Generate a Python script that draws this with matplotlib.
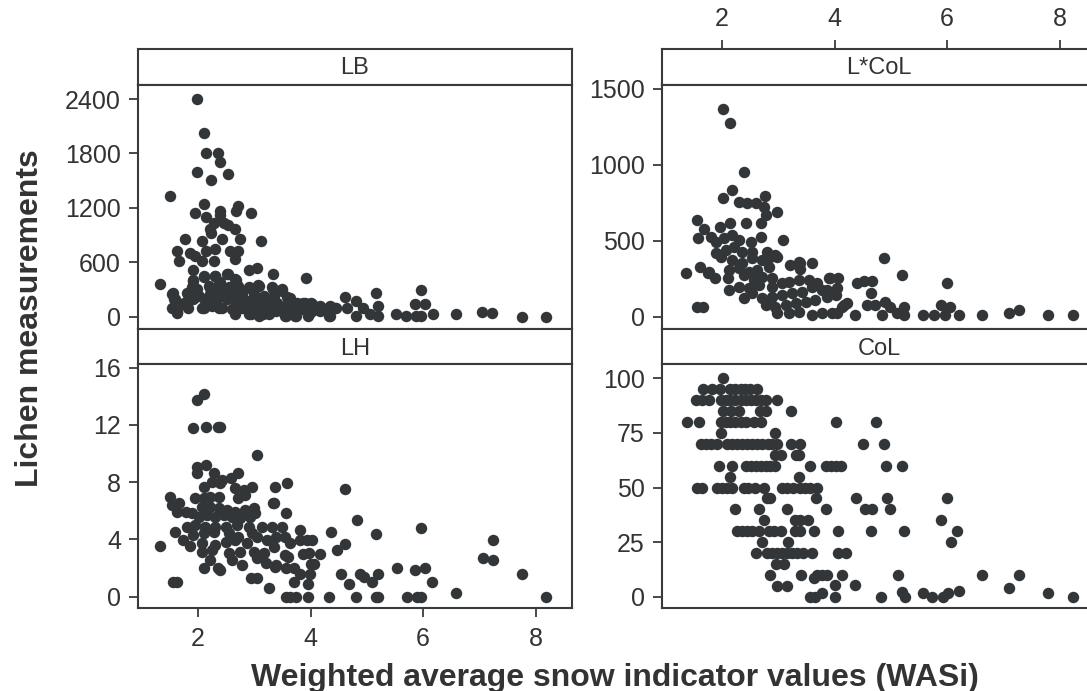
import matplotlib
matplotlib.use("Agg")
import matplotlib.pyplot as plt

# ---------------- data ----------------
lb_points = [
    (1.99, 2400), (2.10, 2020), (2.14, 1800), (2.36, 1800), (2.39, 1710), (1.99, 1600), (2.53, 1570),
    (2.24, 1505), (1.51, 1325), (2.10, 1237), (1.95, 1148), (2.14, 1104), (2.39, 1170), (2.39, 1123),
    (2.72, 1215), (2.68, 1170), (2.94, 1148), (2.28, 1034), (2.46, 1034), (2.53, 1012), (2.21, 968),
    (2.65, 968), (2.24, 919), (1.77, 857), (2.43, 857), (2.75, 857), (2.07, 831), (3.12, 831),
    (1.63, 720), (1.85, 698), (1.95, 672), (2.14, 720), (2.31, 742), (2.57, 720), (2.72, 720),
    (1.66, 609), (2.07, 609), (2.28, 609), (2.65, 631), (1.92, 517), (2.90, 517), (3.05, 539),
    (2.53, 473), (3.34, 473), (3.92, 429), (1.33, 365), (1.92, 403), (2.10, 451), (2.31, 451), (2.68, 403),
    (1.55, 262), (1.59, 196), (1.73, 137), (1.55, 93), (1.63, 55), (1.80, 262), (1.95, 307), (1.95, 218),
    (2.10, 93), (2.21, 321), (2.39, 377), (2.42, 248), (2.21, 174), (2.38, 100), (2.54, 321), (2.68, 174),
    (2.79, 285), (2.92, 321), (3.07, 351), (2.86, 100), (2.95, 27), (3.14, 210), (3.16, 27), (3.34, 303),
    (3.49, 285), (3.27, 137), (3.39, 63), (3.63, 210), (3.57, 8), (3.75, 8), (3.87, 155), (4.01, 155),
    (3.95, 8), (4.16, 63),
    (1.92, 395), (2.10, 432), (2.31, 451), (2.52, 469), (2.66, 414), (1.98, 303), (2.19, 340), (2.37, 359),
    (2.55, 322), (2.72, 340), (2.90, 322), (3.08, 340), (3.32, 322), (3.49, 303), (1.54, 248), (1.83, 248),
    (2.01, 229), (2.22, 248), (2.43, 229), (2.63, 266), (2.78, 248), (2.99, 248), (3.17, 229), (3.35, 229),
    (3.58, 211), (1.57, 192), (1.75, 155), (1.92, 192), (2.13, 192), (2.34, 192), (2.52, 192), (2.69, 174),
    (2.87, 174), (3.05, 174), (3.23, 174), (3.40, 155), (3.58, 137), (3.76, 155), (3.91, 155), (4.03, 137),
    (4.17, 118), (4.35, 118), (1.54, 100), (1.63, 45), (1.83, 100), (2.07, 100), (2.25, 118), (2.43, 100),
    (2.60, 82), (2.78, 100), (2.96, 82), (3.14, 100), (3.32, 82), (3.49, 63), (3.67, 63), (3.85, 82),
    (4.03, 63), (4.26, 82), (4.44, 100), (2.66, 26), (2.90, 26), (3.08, 8), (3.26, 26), (3.55, 8),
    (3.73, 8), (3.97, 26), (4.32, 8), (2.13, 137), (1.89, 322), (2.31, 285),
    (4.34, 8), (4.61, 211), (4.46, 100), (4.64, 100), (4.81, 174), (4.81, 8), (4.93, 100), (5.17, 255),
    (5.20, 118), (5.05, 26), (5.20, 8), (5.52, 26), (5.70, 8), (5.88, 8), (5.97, 292), (5.85, 137),
    (6.03, 137), (5.97, 8), (6.18, 26), (6.58, 26), (7.05, 52), (7.23, 37), (7.75, 0), (8.19, 0),
]

lh_points = [
    (2.10, 14.17), (1.99, 13.75), (1.92, 11.77), (2.14, 11.89), (2.36, 11.89), (2.40, 11.89), (3.04, 9.91),
    (1.99, 9.09), (2.14, 9.21), (1.99, 8.63), (2.28, 8.67), (2.72, 8.63), (3.37, 7.69), (3.59, 7.93),
    (4.61, 7.51), (1.51, 6.99), (4.83, 5.36), (1.33, 3.55), (1.59, 4.55), (1.73, 3.97), (1.85, 3.55),
    (1.56, 1.01), (1.63, 1.01), (2.10, 1.99), (2.36, 1.99), (2.39, 1.87), (2.94, 1.33), (3.04, 1.33),
    (3.27, 0.59), (3.56, 0), (3.63, 0), (3.74, 0), (3.96, 0), (3.96, 0.87), (3.99, 1.59), (3.70, 1.01),
    (4.32, 0), (4.36, 4.55), (4.47, 3.27), (4.61, 3.69), (4.54, 1.57), (4.69, 0.87), (4.80, 0),
    (4.87, 1.57), (4.95, 1.40), (5.09, 1.01), (5.17, 4.38), (5.20, 1.57), (5.17, 0), (5.20, 0),
    (5.53, 1.99), (5.71, 0), (5.86, 1.87), (5.89, 0), (5.97, 0), (6.04, 1.99), (5.97, 4.80), (6.16, 1.01),
    (6.59, 0.29), (7.06, 2.68), (7.24, 2.57), (7.24, 3.97), (7.75, 1.57), (8.19, 0), (4.17, 2.96),
    (4.07, 2.27), (4.01, 2.27), (3.87, 2.96), (3.98, 3.08), (3.82, 3.97), (3.93, 3.97), (4.03, 3.97),
    (3.82, 4.66), (3.56, 5.83), (3.60, 2.80), (3.56, 1.99), (3.70, 1.99), (3.82, 1.57), (3.34, 6.53),
    (3.37, 2.10),
    (1.54, 6.41), (1.66, 6.52), (1.63, 5.94), (1.78, 5.94), (1.89, 5.82), (1.95, 6.87), (2.10, 6.87),
    (2.22, 6.99), (2.37, 6.99), (2.43, 8.15), (2.58, 8.27), (2.10, 7.69), (2.25, 8.04), (2.40, 7.92),
    (2.66, 7.57), (2.81, 7.45), (2.96, 7.64), (2.72, 6.87), (2.84, 7.10), (2.07, 6.29), (2.22, 6.29),
    (2.37, 6.17), (2.52, 6.06), (2.66, 5.94), (2.84, 6.06), (2.99, 6.17), (3.02, 5.82), (2.01, 5.59),
    (2.16, 5.71), (2.31, 5.59), (2.46, 5.71), (2.60, 5.59), (2.75, 5.47), (2.93, 5.59), (1.80, 4.89),
    (1.95, 5.01), (2.13, 4.89), (2.31, 4.89), (2.49, 4.89), (2.69, 5.01), (2.90, 4.89), (1.92, 4.31),
    (2.10, 4.43), (2.28, 4.54), (2.55, 4.43), (2.72, 4.19), (2.96, 4.43), (3.14, 4.89), (3.32, 4.89),
    (3.49, 4.89), (2.07, 3.73), (2.31, 3.61), (2.49, 3.84), (2.66, 3.96), (2.87, 3.73), (3.05, 4.19),
    (3.23, 3.96), (3.38, 4.19), (3.55, 4.19), (3.64, 3.73), (2.07, 3.14), (2.25, 3.26), (2.55, 3.03),
    (2.75, 3.14), (2.99, 3.14), (3.17, 3.03), (3.35, 3.49), (3.55, 2.91), (2.22, 2.56), (2.60, 2.56),
    (2.78, 2.21), (3.05, 2.68), (3.20, 2.33), (3.38, 2.21), (3.35, 6.52),
]

lcol_points = [
    (2.02, 1367), (2.14, 1272), (2.39, 954), (2.17, 834), (2.02, 783), (2.76, 794), (2.98, 689),
    (1.56, 636), (1.96, 592), (3.08, 505), (1.36, 290), (1.61, 329), (1.76, 290), (1.88, 253),
    (1.56, 66), (1.66, 66), (4.87, 384), (5.20, 274), (6.00, 224), (4.37, 11), (4.84, 11), (4.40, 224),
    (4.52, 237), (4.66, 237), (4.65, 154), (4.58, 77), (4.72, 77), (4.90, 99), (4.99, 66), (5.11, 22),
    (5.23, 66), (5.23, 11), (5.58, 11), (5.76, 11), (5.89, 77), (6.06, 66), (5.97, 11), (6.21, 11),
    (6.62, 11), (7.10, 22), (7.28, 44), (7.79, 11), (8.23, 11), (3.60, 351), (3.38, 351), (3.21, 340),
    (3.39, 312), (2.83, 329), (2.86, 395), (2.97, 395), (3.92, 252), (4.06, 252), (4.04, 187),
    (3.87, 176), (4.16, 77), (4.04, 22),
    (2.30, 757), (2.45, 746), (2.60, 746), (2.75, 724), (2.78, 669), (2.70, 619), (1.68, 575),
    (1.58, 515), (1.80, 526), (2.15, 614), (2.42, 614), (1.89, 494), (2.03, 515), (2.18, 537),
    (2.30, 505), (2.51, 494), (2.69, 526), (1.89, 417), (2.07, 439), (2.21, 461), (2.36, 428),
    (2.54, 428), (1.98, 390), (2.18, 373), (2.36, 351), (2.54, 384), (2.72, 373), (2.80, 428),
    (2.95, 406), (2.12, 307), (2.30, 318), (2.48, 296), (2.63, 307), (3.37, 362), (2.11, 252),
    (2.39, 274), (2.57, 241), (2.72, 263), (2.89, 252), (2.12, 176), (2.30, 198), (2.48, 187),
    (2.66, 208), (2.89, 198), (3.07, 219), (3.19, 230), (3.37, 241), (3.55, 241), (3.69, 219),
    (2.39, 121), (2.54, 154), (2.72, 121), (2.89, 132), (3.07, 143), (3.25, 154), (3.43, 165),
    (3.60, 198), (3.78, 176), (2.78, 77), (2.95, 66), (3.13, 77), (3.31, 88), (3.49, 99), (3.66, 110),
    (3.87, 132), (4.02, 143), (2.98, 22), (3.19, 22), (3.37, 33), (3.60, 11), (3.78, 22), (3.96, 22),
    (4.14, 66), (4.23, 88), (3.90, 252), (1.77, 296),
]

# CoL: cover value -> WASi values of the sites at that value
col_rows = {
    100: [2.02],
    95: [1.66, 1.82, 1.97, 2.14, 2.24, 2.33, 2.41, 2.50, 2.62],
    90: [1.53, 1.65, 1.77, 1.98, 2.07, 2.15, 2.24, 2.33, 2.42, 2.51, 2.60, 2.69, 2.78, 2.97],
    85: [2.01, 2.16, 2.30, 2.68, 2.78, 3.23],
    80: [1.37, 1.59, 1.98, 2.07, 2.15, 2.24, 2.33, 2.42, 2.57, 2.69, 4.03, 4.73],
    75: [1.99, 2.94],
    70: [1.62, 1.71, 1.80, 1.92, 2.09, 2.18, 2.27, 2.36, 2.45, 2.54, 2.63, 2.72, 2.81, 2.89, 2.98,
         3.22, 3.38, 4.50, 4.87],
    65: [2.94, 3.05, 3.32, 3.37],
    60: [1.95, 2.17, 2.42, 2.51, 2.60, 2.69, 2.78, 2.86, 2.95, 3.56, 3.84, 3.93, 4.02, 4.11, 4.91, 5.19],
    55: [2.14, 3.37],
    50: [1.56, 1.64, 1.91, 2.00, 2.09, 2.18, 2.39, 2.47, 2.59, 2.74, 3.07, 3.15, 3.27, 3.39, 3.48,
         3.57, 3.68],
    45: [2.80, 2.85, 3.67, 4.39, 4.94, 6.00],
    40: [2.24, 2.65, 3.15, 3.85, 4.55, 4.67, 4.98],
    35: [2.75, 3.30, 3.39, 3.52, 5.89],
    30: [2.27, 2.36, 2.44, 2.53, 2.65, 2.83, 2.92, 3.04, 3.30, 3.39, 3.63, 4.06, 4.65, 5.23, 6.18],
    25: [2.72, 3.18, 6.07],
    20: [2.60, 2.80, 2.89, 2.98, 3.07, 3.16, 3.24, 3.33, 3.44, 3.60, 4.06, 4.21],
    15: [2.96, 3.10],
    10: [2.86, 3.41, 3.69, 3.78, 3.87, 4.14, 5.13, 6.62, 7.28],
    0: [3.57, 3.66, 4.00, 4.83, 5.25, 5.74, 5.93, 8.23],
}
col_extra = [(3.63, 8.4), (2.98, 5), (3.15, 5), (4.00, 5.5), (4.36, 5.4), (7.10, 3.8), (3.78, 1.8),
             (5.19, 2.3), (5.57, 1.8), (6.01, 1.8), (6.22, 2.8), (7.79, 1.8)]

panel_titles = ["LB", "L*CoL", "LH", "CoL"]
lb_yticks = [0, 600, 1200, 1800, 2400]
lcol_yticks = [0, 500, 1000, 1500]
lh_yticks = [0, 4, 8, 12, 16]
col_yticks = [0, 25, 50, 75, 100]
x_ticks = [2, 4, 6, 8]
x_label = "Weighted average snow indicator values (WASi)"
y_label = "Lichen measurements"

# ---------------- figure ----------------
W, H = 1087, 691
plt.rcParams['font.family'] = ['Liberation Sans', 'DejaVu Sans']
fig = plt.figure(figsize=(W / 100, H / 100), dpi=100)

DOT = '#333638'
LINE = '#3a3a3a'
TXT = '#333333'
XLIM = (0.94, 8.64)


def box(x0, y0, x1, y1):
    return [x0 / W, 1 - y1 / H, (x1 - x0) / W, (y1 - y0) / H]


col_points = [(x, lvl) for lvl, xs in col_rows.items() for x in xs] + col_extra

panels = [
    (panel_titles[0], lb_points, (138.3, 571.7), (48.7, 84.5, 329.3), lb_yticks, (-140, 2560)),
    (panel_titles[1], lcol_points, (662.3, 1095.7), (48.7, 84.5, 329.3), lcol_yticks, (-83, 1528)),
    (panel_titles[2], lh_points, (138.3, 571.7), (329.3, 364.3, 608.3), lh_yticks, (-0.81, 16.24)),
    (panel_titles[3], col_points, (662.3, 1095.7), (329.3, 364.3, 608.3), col_yticks, (-5.3, 106.4)),
]

for i, (title, pts, (x0, x1), (ys, yp, yb), yt, ylim) in enumerate(panels):
    strip = fig.add_axes(box(x0, ys, x1, yp))
    ax = fig.add_axes(box(x0, yp, x1, yb))
    xs = [p[0] for p in pts]
    ys_ = [p[1] for p in pts]
    ax.scatter(xs, ys_, s=68, c=DOT, linewidths=0, zorder=3, clip_on=False)
    ax.set_xlim(*XLIM)
    ax.set_ylim(*ylim)
    ax.set_yticks(yt)
    ax.tick_params(axis='y', direction='out', length=6.5, width=1.3, color=LINE,
                   labelsize=18, pad=6, labelcolor=TXT)
    if title == "LH":
        ax.set_xticks(x_ticks)
        ax.tick_params(axis='x', direction='out', length=6.5, width=1.3, color=LINE,
                       labelsize=18, pad=7, labelcolor=TXT)
    else:
        ax.set_xticks([])
    for sp in ax.spines.values():
        sp.set_linewidth(1.5)
        sp.set_color(LINE)

    strip.set_xlim(*XLIM)
    strip.set_ylim(0, 1)
    strip.set_yticks([])
    if title == "L*CoL":
        strip.set_xticks(x_ticks)
        strip.xaxis.set_ticks_position('top')
        strip.tick_params(axis='x', direction='out', length=6.5, width=1.3, color=LINE,
                          labelsize=18, pad=6, labelcolor=TXT)
    else:
        strip.set_xticks([])
    for sp in strip.spines.values():
        sp.set_linewidth(1.5)
        sp.set_color(LINE)
    strip.text(0.5, 0.45, title, transform=strip.transAxes, ha='center', va='center',
               fontsize=17, color=TXT)

fig.text(30 / W, 1 - 318 / H, y_label, rotation=90, ha='center', va='center',
         fontsize=23, fontweight='bold', color=TXT)
fig.text(615 / W, 1 - 686 / H, x_label, ha='center', va='baseline',
         fontsize=23, fontweight='bold', color=TXT)

fig.savefig("out.png", dpi=100, facecolor='white')
